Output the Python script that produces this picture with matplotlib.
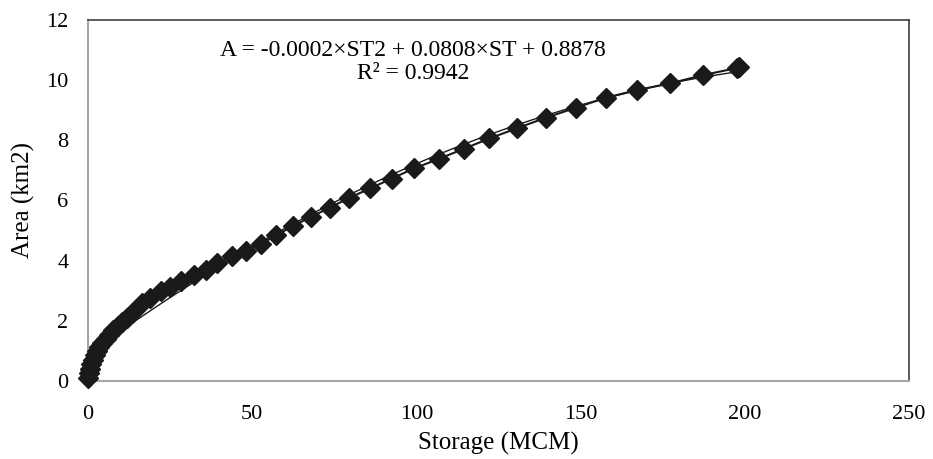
import matplotlib.pyplot as plt
import numpy as np

# storage (MCM) and area (km2)
storage = [0.0, 0.2, 0.5, 0.9, 1.4, 2.0, 2.7, 3.5, 4.4, 5.4, 6.5, 7.7, 9.0,
           10.4, 11.9, 13.5, 16.4, 19.0, 22.1, 25.1, 28.2, 32.3, 35.8, 39.4,
           44.0, 48.1, 52.7, 57.3, 62.4, 67.8, 73.6, 79.4, 85.9, 92.5, 99.4,
           106.8, 114.5, 122.2, 130.6, 139.4, 148.5, 157.8, 167.2, 177.2,
           187.4, 197.5, 198.2]
area = [0.1, 0.25, 0.4, 0.55, 0.7, 0.85, 0.98, 1.12, 1.26, 1.40, 1.54, 1.68,
        1.82, 1.96, 2.10, 2.25, 2.59, 2.75, 2.98, 3.14, 3.33, 3.53, 3.70,
        3.92, 4.15, 4.31, 4.56, 4.84, 5.15, 5.45, 5.76, 6.08, 6.40, 6.73,
        7.07, 7.38, 7.72, 8.06, 8.40, 8.75, 9.08, 9.42, 9.67, 9.89, 10.17,
        10.40, 10.42]

xticks = [0, 50, 100, 150, 200, 250]
yticks = [0, 2, 4, 6, 8, 10, 12]

plt.rcParams['font.family'] = ['Liberation Serif', 'DejaVu Serif']

fig = plt.figure(figsize=(9.33, 4.59), dpi=100)
ax = fig.add_axes([0.0943, 0.170, 0.880, 0.7865])

# polynomial trendline (order 2)
coef = np.polyfit(storage, area, 2)
xs = np.linspace(min(storage), max(storage), 200)
ax.plot(xs, np.polyval(coef, xs), color='#1a1a1a', lw=1.0, zorder=2)

ax.plot(storage, area, color='#1a1a1a', lw=1.5, marker='D', ms=10,
        markerfacecolor='#1a1a1a', markeredgecolor='#1a1a1a', zorder=3,
        clip_on=False)

ax.set_xlim(0, 250)
ax.set_ylim(0, 12)
ax.set_xticks(xticks)
ax.set_yticks(yticks)
ax.tick_params(length=0, labelsize=16)
ax.tick_params(axis='x', pad=17)
ax.tick_params(axis='y', pad=14)
ax.set_xlabel('Storage (MCM)', fontsize=18, labelpad=6)
ax.set_ylabel('Area (km2)', fontsize=18, labelpad=8)

for s in ['left', 'bottom']:
    ax.spines[s].set_color('#a6a6a6')
    ax.spines[s].set_linewidth(1.5)
for s in ['top', 'right']:
    ax.spines[s].set_color('#404040')
    ax.spines[s].set_linewidth(1.2)

ax.text(0.396, 0.884, 'A = -0.0002\u00d7ST2 + 0.0808\u00d7ST + 0.8878\nR\u00b2 = 0.9942',
        transform=ax.transAxes, ha='center', va='center', fontsize=17,
        linespacing=1.1, multialignment='center')

fig.savefig('out.png', dpi=100)
